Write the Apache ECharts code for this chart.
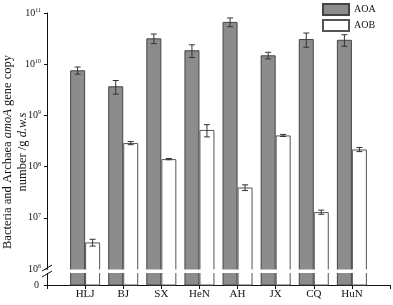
<!DOCTYPE html>
<html>
<head>
<meta charset="utf-8">
<script src="https://cdn.jsdelivr.net/npm/echarts@6/dist/echarts.min.js"></script>
<style>
  html, body { margin: 0; padding: 0; background: #fff; }
  #chart { width: 393px; height: 305px; }
</style>
</head>
<body>
<div id="chart"></div>
<script>
var sites = ['HLJ', 'BJ', 'SX', 'HeN', 'AH', 'JX', 'CQ', 'HuN'];
var aoa = [7.6e9, 3.7e9, 3.2e10, 1.87e10, 6.7e10, 1.49e10, 3.1e10, 3.0e10];
var aoaSd = [1.2e9, 1.1e9, 6.8e9, 5.2e9, 1.3e10, 2.2e9, 9.6e9, 7.6e9];
var aob = [3.3e6, 2.88e8, 1.40e8, 5.2e8, 3.9e7, 4.06e8, 1.29e7, 2.16e8];
var aobSd = [0.5e6, 0.2e8, 0.04e8, 1.4e8, 0.5e7, 0.19e8, 0.12e7, 0.2e8];
var yTicks = [1e6, 1e7, 1e8, 1e9, 1e10, 1e11];

// sites sit on x = 1..8 of a 0..9 axis
function pairs(vals) { return vals.map(function (v, i) { return [i + 1, v]; }); }
function errData(vals, sds) {
  return vals.map(function (v, i) { return [i + 1, v, sds[i]]; });
}

var font = 'Liberation Serif';
var barW = 15;
// bottom of the axis sits a bit under 10^6 (the "0" stub below the break)
var yMin = Math.pow(10, 6 - 16 / 51.1);

function errorBar(shift) {
  return function (params, api) {
    var idx = api.value(0), v = api.value(1), sd = api.value(2);
    var hi = api.coord([idx, v + sd]);
    var lo = api.coord([idx, v - sd]);
    var x = hi[0] + shift;
    var style = { stroke: '#333', lineWidth: 1 };
    return {
      type: 'group',
      children: [
        { type: 'line', shape: { x1: x, y1: hi[1], x2: x, y2: lo[1] }, style: style },
        { type: 'line', shape: { x1: x - 3, y1: hi[1], x2: x + 3, y2: hi[1] }, style: style },
        { type: 'line', shape: { x1: x - 3, y1: lo[1], x2: x + 3, y2: lo[1] }, style: style }
      ]
    };
  };
}

var option = {
  animation: false,
  textStyle: { fontFamily: font, color: '#111' },
  legend: {
    orient: 'vertical',
    left: 322,
    top: 3,
    padding: 0,
    itemWidth: 26,
    itemHeight: 11,
    itemGap: 3,
    icon: 'rect',
    textStyle: { fontFamily: font, fontSize: 10, color: '#111' },
    data: ['AOA', 'AOB']
  },
  grid: { left: 47, right: 3, top: 13, bottom: 20, outerBoundsMode: 'none' },
  xAxis: {
    type: 'value', min: 0, max: 9, interval: 1,
    splitLine: { show: false },
    axisLine: { lineStyle: { color: '#111', width: 1 } },
    axisTick: { show: true, length: 4, lineStyle: { color: '#111' } },
    axisLabel: {
      margin: 4, fontSize: 11, color: '#111', fontFamily: font,
      formatter: function (v) { return sites[v - 1] || ''; }
    }
  },
  yAxis: {
    type: 'log', min: yMin, max: 1e11, logBase: 10,
    name: '{n|Bacteria and Archaea }{i|amoA}{n| gene copy}\n{n|number /g }{i|d.w.s}',
    nameLocation: 'middle',
    nameRotate: 90,
    nameGap: 17,
    nameMoveOverlap: false,
    nameTextStyle: {
      padding: [0, 6, 0, 0],
      lineHeight: 15,
      rich: {
        n: { fontFamily: font, fontSize: 12.5, color: '#111', lineHeight: 15 },
        i: { fontFamily: font, fontSize: 12.5, fontStyle: 'italic', color: '#111', lineHeight: 15 }
      }
    },
    splitLine: { show: false },
    axisLine: { show: true, lineStyle: { color: '#111', width: 1 } },
    axisTick: { show: true, length: 3, customValues: [yMin].concat(yTicks), lineStyle: { color: '#111' } },
    axisLabel: {
      margin: 6,
      customValues: [yMin].concat(yTicks),
      formatter: function (v) {
        if (v < 9e5) return '{z|0}';
        return '{b|10}{s|' + Math.round(Math.log10(v)) + '}';
      },
      rich: {
        b: { fontFamily: font, fontSize: 10, color: '#111' },
        z: { fontFamily: font, fontSize: 10, color: '#111', padding: [0, 2, 0, 0] },
        s: { fontFamily: font, fontSize: 6, color: '#111', verticalAlign: 'top', padding: [0, 0, 5, 0] }
      }
    }
  },
  series: [
    { name: 'AOA', type: 'bar', data: pairs(aoa), barWidth: barW, barGap: '0%', clip: true,
      itemStyle: { color: '#8c8c8c', borderColor: '#444', borderWidth: 1 } },
    { name: 'AOB', type: 'bar', data: pairs(aob), barWidth: barW, barGap: '0%', clip: true,
      itemStyle: { color: '#fff', borderColor: '#555', borderWidth: 1 } },
    { type: 'custom', z: 5, renderItem: errorBar(-barW / 2), data: errData(aoa, aoaSd), encode: { x: 0, y: 1 } },
    { type: 'custom', z: 5, renderItem: errorBar(barW / 2), data: errData(aob, aobSd), encode: { x: 0, y: 1 } }
  ],
  graphic: [
    // axis break: white band across the plot plus the // marks
    { type: 'rect', z: 50, shape: { x: 44, y: 269.5, width: 349, height: 3.5 }, style: { fill: '#fff' } },
    { type: 'line', z: 51, shape: { x1: 42, y1: 271, x2: 52, y2: 265 }, style: { stroke: '#111', lineWidth: 1 } },
    { type: 'line', z: 51, shape: { x1: 42, y1: 277, x2: 52, y2: 271 }, style: { stroke: '#111', lineWidth: 1 } }
  ]
};

var myChart = echarts.init(document.getElementById('chart'));
myChart.setOption(option);
window.addEventListener('resize', function () {
  myChart.resize();
});
</script>
</body>
</html>
